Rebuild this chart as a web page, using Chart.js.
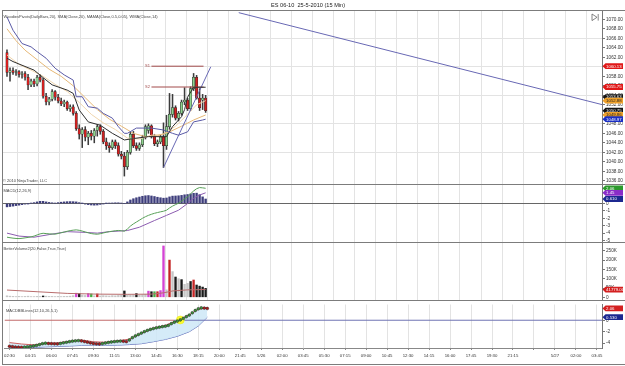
<!DOCTYPE html>
<html>
<head>
<meta charset="utf-8">
<script src="https://cdn.jsdelivr.net/npm/chart.js@4.4.1/dist/chart.umd.min.js"></script>
<style>
html,body{margin:0;padding:0;background:#fff;}
body{width:625px;height:366px;position:relative;overflow:hidden;}
canvas{position:absolute;left:0;}
.ln{position:absolute;background:#7c7c7c;}
</style>
</head>
<body>
<canvas id="cPrice" width="625" height="184" style="top:0px"></canvas>
<canvas id="cMacd" width="625" height="58" style="top:184px"></canvas>
<canvas id="cVol" width="625" height="58" style="top:242px"></canvas>
<canvas id="cBB" width="625" height="66" style="top:300px"></canvas>
<div class="ln" style="left:2px;top:10px;width:623px;height:1px"></div>
<div class="ln" style="left:2px;top:184px;width:623px;height:1px"></div>
<div class="ln" style="left:2px;top:242px;width:623px;height:1px"></div>
<div class="ln" style="left:2px;top:300px;width:623px;height:1px"></div>
<div class="ln" style="left:2px;top:364px;width:623px;height:1px"></div>
<div class="ln" style="left:2px;top:10px;width:1px;height:355px"></div>
<script>
// ===================== DATA =====================
const chartTitle = 'ES 06-10  25-5-2010 (15 Min)';
const priceLegend = 'WoodiesPivots(DailyBars,20), SMA(Close,20), MAMA(Close,0.5,0.05), WMA(Close,14)';
const macdLegend = 'MACD(12,26,9)';
const volLegend = 'BetterVolume2(20,False,True,True)';
const bbLegend = 'MACDBBLines(12,10,26,5,1)';
const copyrightText = '\u00A9 2010 NinjaTrader, LLC';

const xTickLabels = ['02:30','04:15','06:00','07:45','09:30','11:15','13:00','14:45','16:30','18:15','20:00','21:45','5/26','02:00','03:45','05:30','07:15','09:00','10:45','12:30','14:15','16:00','17:45','19:30','21:15','','5/27','02:00','03:45'];

const opens = [1063.0,1058.8,1059.2,1058.8,1059.0,1058.4,1058.6,1057.8,1056.2,1057.0,
  1056.4,1057.8,1057.2,1053.8,1052.6,1053.2,1054.8,1053.6,1052.8,1052.2,
  1052.6,1051.2,1051.6,1050.2,1047.0,1045.8,1046.8,1045.2,1046.0,1045.4,
  1046.6,1047.4,1046.4,1044.2,1043.4,1043.0,1044.2,1043.4,1041.6,1041.2,
  1039.0,1042.0,1045.8,1043.4,1042.8,1043.6,1045.2,1046.6,1047.6,1045.4,
  1043.8,1044.2,1045.2,1043.4,1047.4,1050.0,1051.4,1049.2,1050.2,1052.6,
  1053.0,1051.2,1055.4,1057.8,1053.4,1053.0,1053.4];
const highs = [1063.6,1059.8,1059.8,1059.4,1059.2,1059.0,1059.0,1058.4,1057.4,1057.4,
  1058.2,1058.4,1057.6,1054.4,1053.6,1055.2,1055.0,1054.2,1053.4,1053.0,
  1052.8,1052.0,1052.0,1050.6,1047.8,1047.2,1047.4,1046.4,1046.6,1047.0,
  1047.8,1047.8,1046.8,1045.0,1044.0,1044.6,1044.6,1044.0,1042.2,1042.0,
  1042.4,1046.2,1046.4,1044.0,1044.0,1045.6,1047.8,1048.0,1047.8,1045.8,
  1044.6,1045.6,1048.2,1049.8,1054.4,1054.2,1051.8,1050.6,1053.0,1055.6,
  1053.4,1055.8,1058.6,1058.2,1055.4,1054.2,1054.0];
const lows = [1058.0,1057.0,1058.4,1058.2,1057.8,1057.6,1057.2,1055.2,1055.8,1055.8,
  1056.0,1056.8,1053.4,1052.0,1052.0,1052.8,1053.0,1052.4,1051.8,1051.6,
  1050.8,1050.6,1049.8,1046.6,1044.8,1043.0,1044.4,1043.6,1044.6,1044.0,
  1045.4,1045.8,1043.8,1042.6,1042.0,1042.6,1042.8,1041.2,1040.6,1037.0,
  1038.4,1041.6,1043.0,1042.4,1042.4,1043.2,1044.8,1046.0,1045.0,1043.4,
  1043.2,1043.8,1038.8,1042.6,1046.8,1049.4,1048.8,1048.6,1049.8,1052.0,
  1050.8,1050.8,1055.0,1053.2,1050.8,1051.0,1050.4];
const closes = [1058.8,1059.2,1058.8,1059.0,1058.4,1058.6,1057.8,1056.2,1057.0,1056.4,
  1057.8,1057.2,1053.8,1052.6,1053.2,1054.8,1053.6,1052.8,1052.2,1052.6,
  1051.2,1051.6,1050.2,1047.0,1045.8,1046.8,1045.2,1046.0,1045.4,1046.6,
  1047.4,1046.4,1044.2,1043.4,1043.0,1044.2,1043.4,1041.6,1041.2,1039.0,
  1042.0,1045.8,1043.4,1042.8,1043.6,1045.2,1047.4,1047.6,1045.4,1043.8,
  1044.2,1045.2,1043.4,1047.4,1050.0,1051.4,1049.2,1050.2,1052.6,1053.0,
  1051.2,1055.4,1057.8,1053.4,1051.4,1053.4,1050.75];

const purpleBars = [0,2,5,8,10,13,16,19,22,23,25,27,30,32,35,37,39,40,43,48,52,55,57,60,62,65,66];
const purpleVals = [1070.5,1067.7,1064.9,1064.2,1063.2,1061.8,1059.7,1058.3,1057.2,1053.7,1053.7,1051.6,1051.3,1050.2,1049.2,1047.4,1046.0,1046.0,1047.1,1047.1,1046.7,1046.0,1045.6,1046.3,1048.4,1048.8,1048.97];
const smaBars = [0,3,6,10,14,18,22,26,30,34,38,42,46,50,54,58,62,66];
const smaVals = [1068.0,1065.5,1063.5,1061.5,1059.5,1058.0,1056.0,1053.5,1051.0,1049.0,1047.5,1046.0,1045.3,1045.5,1046.3,1047.5,1048.8,1049.86];
const wmaBars = [0,4,8,12,16,20,24,28,32,36,40,44,48,52,56,60,63,66];
const wmaVals = [1062.5,1060.5,1059.3,1058.0,1056.3,1054.8,1052.5,1050.0,1048.2,1046.8,1045.0,1044.8,1045.6,1045.8,1047.5,1050.0,1052.0,1052.88];
const mamaBars = [0,2,9,13,15,20,22,24,27,31,35,39,42,47,53,55,58,59,60,62,66];
const mamaVals = [1061.8,1061.1,1059.3,1057.2,1056.2,1055.1,1054.4,1050.9,1048.4,1047.7,1046.0,1044.6,1044.9,1045.3,1045.3,1047.4,1049.5,1051.0,1053.6,1055.7,1055.7];

const trend1Bars = [52, 67.7];
const trend1Vals = [1038.8, 1060.0];
const trend2Bars = [77, 198];
const trend2Vals = [1071.4, 1052.0];

const pivotNames = ['S1','S2'];
const pivotValues = [1060.13, 1055.75];
const pivotFromBar = 48;
const pivotToBar = 65.3;

const priceTicks = [1036,1038,1040,1042,1044,1046,1048,1050,1052,1054,1056,1058,1060,1062,1064,1066,1068,1070];
const priceGridTicks = [1042,1048,1054,1060,1066];
const priceMarkerValues = [1060.13, 1055.75, 1053.63, 1052.88, 1050.75, 1049.86, 1048.97];
const priceMarkerKinds = ['pivot','pivot','pp','wma','last','sma','purple'];

const macdVals = [-4.55,-4.62,-4.68,-4.72,-4.74,-4.70,-4.64,-4.58,-4.50,-4.40,
  -4.25,-4.10,-4.02,-4.06,-4.10,-4.12,-4.14,-4.05,-3.95,-3.85,
  -3.75,-3.66,-3.60,-3.56,-3.62,-3.72,-3.84,-3.96,-4.06,-4.12,
  -4.15,-4.08,-3.98,-3.88,-3.80,-3.74,-3.68,-3.64,-3.68,-3.74,
  -3.45,-3.05,-2.75,-2.50,-2.25,-2.00,-1.78,-1.60,-1.45,-1.32,
  -1.22,-1.12,-1.04,-0.90,-0.60,-0.35,-0.15,0.05,0.32,0.62,
  0.90,1.30,1.70,2.00,2.16,2.12,2.06];
const signalBars = [0,4,9,14,20,26,30,34,40,44,49,53,57,60,62,64,66];
const signalVals = [-4.0,-4.4,-4.55,-4.2,-3.8,-3.9,-4.0,-3.8,-3.65,-3.2,-2.3,-1.6,-0.9,0.0,0.7,1.15,1.45];
const histVals = [-0.45,-0.40,-0.35,-0.28,-0.22,-0.15,-0.08,-0.02,0.05,0.12,
  0.22,0.30,0.30,0.22,0.15,0.10,0.06,0.12,0.18,0.22,
  0.25,0.26,0.25,0.22,0.12,0.02,-0.08,-0.15,-0.20,-0.22,
  -0.20,-0.12,-0.05,0.02,0.06,0.08,0.10,0.10,0.05,0.00,
  0.22,0.48,0.65,0.78,0.88,0.98,1.05,1.08,1.02,0.95,
  0.85,0.78,0.72,0.75,0.90,1.00,1.02,1.05,1.10,1.18,
  1.22,1.30,1.38,1.40,1.20,0.90,0.61];
const macdTicks = [0,-1,-2,-3,-4,-5];

const volumes = [8000,6000,5000,4000,5000,4000,5000,6000,4000,4000,
  5000,4000,7000,6000,5000,5000,4000,5000,4000,5000,
  5000,6000,9000,22000,20000,12000,10000,20000,18000,8000,
  18000,7000,9000,8000,7000,9000,8000,10000,12000,34000,
  15000,12000,14000,20000,12000,14000,16000,33000,30000,30000,
  30000,36000,276000,40000,200000,138000,109000,100000,95000,70000,
  75000,85000,93000,66000,60000,55000,48000];
const volTypes = ['w','w','w','w','w','w','w','w','w','w',
  'w','w','k','w','w','w','w','w','w','w',
  'w','w','w','m','k','w','w','m','g','w',
  'r','w','w','w','w','w','w','w','w','k',
  'w','w','w','k','w','w','w','m','k','g',
  'r','m','m','w','r','w','k','w','k','w',
  'w','k','r','k','k','k','k'];
const volMABars = [0,10,20,30,40,48,52,55,60,66];
const volMAVals = [39000,30000,21000,17000,16000,17000,24000,34000,40000,41779];
const volTicks = [0,50000,100000,150000,200000,250000];

const bbBars = [0,4,8,12,16,20,24,28,32,36,40,44,48,52,56,60,63,66];
const bbUpper = [-3.9,-4.15,-4.3,-4.05,-3.95,-3.7,-3.45,-3.75,-3.85,-3.6,-3.3,-2.3,-1.4,-0.9,-0.05,0.95,1.9,2.15];
const bbLower = [-4.78,-4.8,-4.75,-4.65,-4.58,-4.5,-4.4,-4.35,-4.4,-4.35,-4.25,-4.1,-3.75,-3.35,-2.8,-2.0,-1.0,0.53];
const zeroCrossBars = [57];
const zeroLineSwitchBar = 55;
const bbTicks = [2,0,-2,-4];

// ===================== STYLE / HELPERS =====================
const FONT = '"Liberation Sans", Arial, sans-serif';
const X_MIN = -1.66, X_MAX = 197.7, BARS_PER_LABEL = 7;
const UP = '#8fd48f', DOWN = '#d42020';
const VOL_COLORS = {w:'#c6c6c6', k:'#1a1a1a', m:'#d444d4', r:'#c42424', g:'#44b044'};
const MARKER_STYLE = {
  pivot:{bg:'#e01818', fg:'#fff'}, pp:{bg:'#141414', fg:'#fff'},
  wma:{bg:'#f0a22c', fg:'#222'}, last:{bg:'#141414', fg:'#fff'},
  sma:{bg:'#f0a22c', fg:'#222'}, purple:{bg:'#1a2ec4', fg:'#fff'}
};
const pts = (xs, ys) => xs.map((x, i) => ({x, y: ys[i]}));
const idx = closes.map((_, i) => i);

function xScale(show) {
  return {
    type: 'linear', min: X_MIN, max: X_MAX, offset: false,
    afterBuildTicks: s => { s.ticks = xTickLabels.map((_, i) => ({value: i * BARS_PER_LABEL})); },
    grid: {color: '#e3e3e3', lineWidth: 1, drawTicks: show, tickLength: 2, tickColor: '#888'},
    border: {display: show, color: '#888'},
    ticks: {display: show, autoSkip: false, maxRotation: 0, minRotation: 0, padding: 3,
      font: {size: 4.3, family: FONT}, color: '#333', callback: (v, i) => xTickLabels[i]},
    afterFit: s => { s.height = show ? 18 : 0; s.paddingLeft = 0; s.paddingRight = 0; }
  };
}
function yScale(min, max, ticks, fmt, gridColor) {
  return {
    type: 'linear', position: 'right', min, max,
    afterBuildTicks: s => { s.ticks = ticks.map(v => ({value: v})); },
    grid: {color: gridColor, drawTicks: true, tickLength: 3, tickColor: '#777'},
    border: {display: true, color: '#777'},
    ticks: {padding: 1, font: {size: 4.7, family: FONT}, color: '#333', callback: v => fmt(v)},
    afterFit: s => { s.width = 23; s.paddingTop = 0; s.paddingBottom = 0; }
  };
}
function drawMarkers(chart, ctx, items) {
  const s = chart.scales.y;
  const x0 = s.left + 0.5, x1 = x0 + 3, x2 = s.left + 21;
  ctx.font = '4.3px ' + FONT; ctx.textBaseline = 'middle'; ctx.textAlign = 'left';
  items.forEach(it => {
    const y = s.getPixelForValue(it.value), h = 2.9;
    ctx.beginPath(); ctx.moveTo(x0, y); ctx.lineTo(x1, y - h); ctx.lineTo(x2, y - h);
    ctx.lineTo(x2, y + h); ctx.lineTo(x1, y + h); ctx.closePath();
    ctx.fillStyle = it.bg; ctx.fill();
    ctx.fillStyle = it.fg; ctx.fillText(it.text, x1 + 0.6, y + 0.2);
  });
}
function legendText(ctx, chart, text) {
  ctx.font = '4px ' + FONT; ctx.fillStyle = '#444'; ctx.textAlign = 'left'; ctx.textBaseline = 'middle';
  ctx.fillText(text, chart.chartArea.left + 1.5, chart.chartArea.top + 6.5);
}
const common = {responsive: false, animation: false, events: [],
  plugins: {legend: {display: false}, tooltip: {enabled: false}}};
function line(data, color, order, extra) {
  return Object.assign({type: 'line', data, borderColor: color, borderWidth: 1, pointRadius: 0, tension: 0, order, fill: false}, extra || {});
}

// ===================== PRICE PANEL =====================
new Chart(document.getElementById('cPrice'), {
  type: 'bar',
  data: {datasets: [
    {type: 'bar', data: idx.map(i => ({x: i, y: [lows[i], highs[i]]})), backgroundColor: '#3c3c3c',
      barThickness: 0.9, grouped: false, order: 3},
    {type: 'bar', data: idx.map(i => ({x: i, y: [opens[i], closes[i]]})),
      backgroundColor: idx.map(i => closes[i] >= opens[i] ? UP : DOWN),
      borderColor: '#2a2a2a', borderWidth: 0.5, borderSkipped: false, minBarLength: 0.8,
      barThickness: 2.4, grouped: false, order: 2},
    line(pts(smaBars, smaVals), '#e6b877', 1),
    line(pts(wmaBars, wmaVals), '#f0d6ae', 1),
    line(pts(purpleBars, purpleVals), '#5a5aa6', 0),
    line(pts(mamaBars, mamaVals), '#2e2e2e', 0),
    line(pts(trend1Bars, trend1Vals), '#6868b4', 0),
    line(pts(trend2Bars, trend2Vals), '#6868b4', 0),
    ...pivotValues.map(v => line([{x: pivotFromBar, y: v}, {x: pivotToBar, y: v}], '#a24a4a', 0))
  ]},
  options: Object.assign({}, common, {
    layout: {padding: {top: 10, left: 2, right: 0, bottom: 0}},
    scales: {
      x: xScale(false),
      y: yScale(1035.33, 1071.96, priceTicks, v => v.toFixed(2),
        c => priceGridTicks.includes(c.tick && c.tick.value) ? '#e3e3e3' : 'rgba(0,0,0,0)')
    }
  }),
  plugins: [{id: 'pdeco', afterDraw(chart) {
    const ctx = chart.ctx, x = chart.scales.x, y = chart.scales.y;
    ctx.save();
    ctx.font = '5.6px ' + FONT; ctx.fillStyle = '#222'; ctx.textAlign = 'center'; ctx.textBaseline = 'middle';
    ctx.fillText(chartTitle, 308, 5.5);
    legendText(ctx, chart, priceLegend);
    ctx.font = '4px ' + FONT; ctx.fillStyle = '#444'; ctx.textAlign = 'left';
    ctx.fillText(copyrightText, chart.chartArea.left + 1, chart.chartArea.bottom - 3.5);
    ctx.fillStyle = '#a24a4a'; ctx.textAlign = 'right';
    pivotNames.forEach((n, i) => ctx.fillText(n, x.getPixelForValue(pivotFromBar) - 1.5, y.getPixelForValue(pivotValues[i])));
    // scroll icon
    ctx.strokeStyle = '#666'; ctx.lineWidth = 0.8;
    ctx.beginPath(); ctx.moveTo(592, 14); ctx.lineTo(597, 17.3); ctx.lineTo(592, 20.6); ctx.closePath(); ctx.stroke();
    ctx.beginPath(); ctx.moveTo(598.2, 14); ctx.lineTo(598.2, 20.6); ctx.stroke();
    drawMarkers(chart, ctx, priceMarkerValues.map((v, i) => ({value: v, text: v.toFixed(2),
      bg: MARKER_STYLE[priceMarkerKinds[i]].bg, fg: MARKER_STYLE[priceMarkerKinds[i]].fg})));
    ctx.restore();
  }}]
});

// ===================== MACD PANEL =====================
new Chart(document.getElementById('cMacd'), {
  type: 'bar',
  data: {datasets: [
    {type: 'bar', data: idx.map(i => ({x: i, y: histVals[i]})), backgroundColor: '#3e3e7c',
      barThickness: 1.7, grouped: false, order: 3},
    line(pts(signalBars, signalVals), '#8c5cb0', 1),
    line(idx.map(i => ({x: i, y: macdVals[i]})), '#58a058', 0)
  ]},
  options: Object.assign({}, common, {
    layout: {padding: {top: 0, left: 2, right: 0, bottom: 0}},
    scales: {
      x: xScale(false),
      y: yScale(-5.2, 2.64, macdTicks, v => String(v), c => (c.tick && c.tick.value === 0) ? '#666' : 'rgba(0,0,0,0)')
    }
  }),
  plugins: [{id: 'mdeco', afterDraw(chart) {
    const ctx = chart.ctx; ctx.save();
    legendText(ctx, chart, macdLegend);
    const n = macdVals.length - 1;
    drawMarkers(chart, ctx, [
      {value: macdVals[n], text: macdVals[n].toFixed(2), bg: '#2c9a2c', fg: '#fff'},
      {value: signalVals[signalVals.length - 1], text: signalVals[signalVals.length - 1].toFixed(2), bg: '#8a2cc8', fg: '#fff'},
      {value: histVals[n], text: histVals[n].toFixed(3), bg: '#1c2890', fg: '#fff'}
    ]);
    ctx.restore();
  }}]
});

// ===================== VOLUME PANEL =====================
new Chart(document.getElementById('cVol'), {
  type: 'bar',
  data: {datasets: [
    {type: 'bar', data: idx.map(i => ({x: i, y: volumes[i]})),
      backgroundColor: volTypes.map(t => VOL_COLORS[t]), barThickness: 1.7, grouped: false, order: 2},
    line(pts(volMABars, volMAVals), '#b86c6c', 0)
  ]},
  options: Object.assign({}, common, {
    layout: {padding: {top: 0, left: 2, right: 0, bottom: 0}},
    scales: {
      x: xScale(false),
      y: yScale(-14500, 297300, volTicks, v => v === 0 ? '0' : (v / 1000) + 'K', 'rgba(0,0,0,0)')
    }
  }),
  plugins: [{id: 'vdeco', afterDraw(chart) {
    const ctx = chart.ctx; ctx.save();
    legendText(ctx, chart, volLegend);
    const last = volMAVals[volMAVals.length - 1];
    drawMarkers(chart, ctx, [{value: last, text: last.toFixed(2), bg: '#d42020', fg: '#fff'}]);
    ctx.restore();
  }}]
});

// ===================== MACD BB LINES PANEL =====================
new Chart(document.getElementById('cBB'), {
  type: 'line',
  data: {datasets: [
    line(pts(bbBars, bbLower), '#5a66b6', 4),
    line(pts(bbBars, bbUpper), '#d26262', 3, {fill: '-1', backgroundColor: 'rgba(206,232,247,0.85)'}),
    line([{x: X_MIN, y: 0}, {x: zeroLineSwitchBar, y: 0}, {x: X_MAX, y: 0}], '#7074b4', 2,
      {segment: {borderColor: c => c.p0DataIndex === 0 ? '#c26a6a' : '#7074b4'}}),
    {type: 'line', data: zeroCrossBars.map(b => ({x: b, y: macdVals[b]})), showLine: false,
      pointRadius: 4, pointBackgroundColor: '#fbfb2e', pointBorderColor: '#e6e620', pointBorderWidth: 0.5, order: 1},
    {type: 'line', data: idx.map(i => ({x: i, y: macdVals[i]})), showLine: false,
      pointRadius: 1.4, pointBorderWidth: 0.5, pointBorderColor: '#1e1e1e',
      pointBackgroundColor: idx.map(i => (i > 0 && macdVals[i] < macdVals[i - 1]) || i === 0 ? '#b01c1c' : '#3a943a'),
      order: 0}
  ]},
  options: Object.assign({}, common, {
    layout: {padding: {top: 0, left: 2, right: 0, bottom: 0}},
    scales: {
      x: xScale(true),
      y: yScale(-4.85, 2.75, bbTicks, v => String(v), 'rgba(0,0,0,0)')
    }
  }),
  plugins: [{id: 'bdeco', afterDraw(chart) {
    const ctx = chart.ctx; ctx.save();
    legendText(ctx, chart, bbLegend);
    const n = macdVals.length - 1, lo = bbLower[bbLower.length - 1];
    drawMarkers(chart, ctx, [
      {value: macdVals[n], text: macdVals[n].toFixed(2), bg: '#d42020', fg: '#fff'},
      {value: lo, text: lo.toFixed(3), bg: '#1c2890', fg: '#fff'}
    ]);
    ctx.restore();
  }}]
});
</script>
</body>
</html>
